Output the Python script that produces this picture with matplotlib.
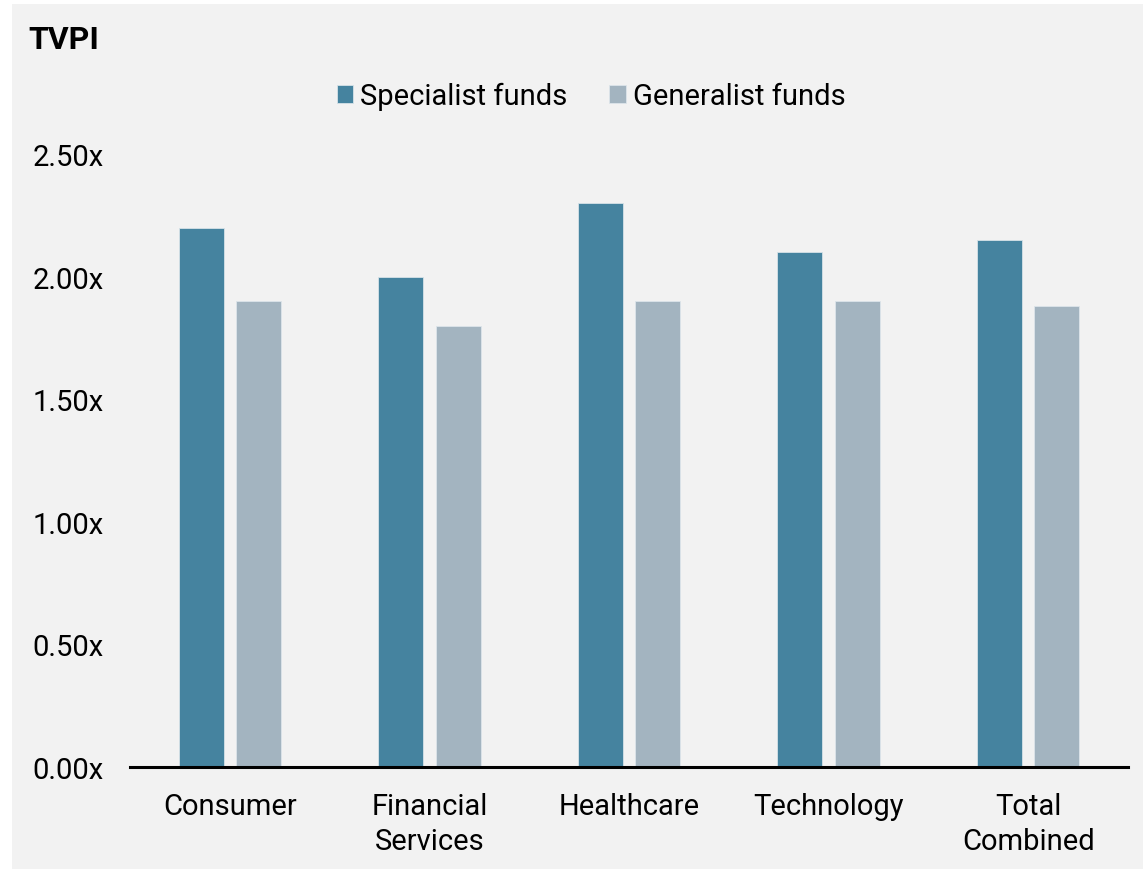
import matplotlib
matplotlib.use("Agg")
import matplotlib.pyplot as plt
from matplotlib.patches import Rectangle
from matplotlib.ticker import FuncFormatter
import numpy as np

# TVPI by sector, specialist vs generalist funds
sectors = ["Consumer", "Financial\nServices", "Healthcare", "Technology", "Total\nCombined"]
specialist = [2.20, 2.00, 2.30, 2.10, 2.15]
generalist = [1.90, 1.80, 1.90, 1.90, 1.88]
series_names = ["Specialist funds", "Generalist funds"]

SPEC_COLOR = "#45839f"
GEN_COLOR = "#a3b4c0"
BG = "#f2f2f2"

plt.rcParams["font.family"] = ["Roboto", "DejaVu Sans"]

fig = plt.figure(figsize=(11.43, 8.70), dpi=100, facecolor="white")
# grey panel behind the chart, leaving a thin white margin top/left
fig.patches.append(Rectangle((12 / 1143, 0), 1 - 12 / 1143, 1 - 5 / 870,
                             transform=fig.transFigure, facecolor=BG,
                             edgecolor="none", zorder=-10))

ax = fig.add_axes([130 / 1143, 1 - 768 / 870, 998 / 1143, 613 / 870])
ax.set_facecolor(BG)
ax.patch.set_alpha(0)

x = np.arange(len(sectors))
w = 0.225
off = 0.144
ax.bar(x - off, specialist, width=w, color=SPEC_COLOR, edgecolor="#d6e2e8",
       linewidth=0.6, label=series_names[0])
ax.bar(x + off, generalist, width=w, color=GEN_COLOR, edgecolor="#dde5ea",
       linewidth=0.6, label=series_names[1])

ax.set_xlim(-0.5, 4.5)
ax.set_ylim(0, 2.5)
ax.set_yticks(np.arange(0, 2.51, 0.5))
ax.yaxis.set_major_formatter(FuncFormatter(lambda v, _: f"{v:.2f}x"))
ax.set_xticks(x)
ax.set_xticklabels(sectors, linespacing=1.3)
ax.tick_params(axis="both", length=0, labelsize=21, colors="black")
ax.tick_params(axis="y", pad=19)
ax.tick_params(axis="x", pad=18)

for side in ["top", "right", "left"]:
    ax.spines[side].set_visible(False)
ax.spines["bottom"].set_linewidth(2.2)
ax.spines["bottom"].set_color("black")

fig.text(28 / 1143, 1 - 40 / 870, "TVPI", fontsize=23, fontweight="bold",
         ha="left", va="center")

fig.legend(loc="center", bbox_to_anchor=(591 / 1143, 1 - 97 / 870), ncol=2,
           frameon=False, fontsize=21, handlelength=0.55, handleheight=0.55,
           handletextpad=0.25, columnspacing=1.45)

fig.savefig("out.png", dpi=100, facecolor=fig.get_facecolor())
